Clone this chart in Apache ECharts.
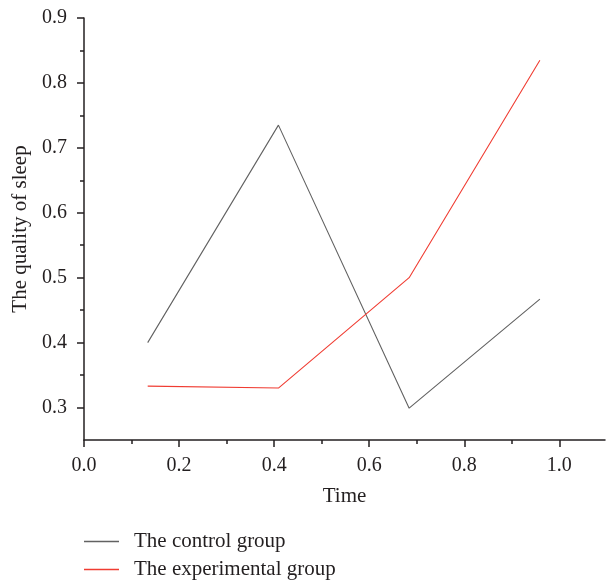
<!DOCTYPE html>
<html>
<head>
<meta charset="utf-8">
<script src="https://cdn.jsdelivr.net/npm/echarts@6/dist/echarts.min.js"></script>
<style>html,body{margin:0;padding:0;background:#fff}#c{width:606px;height:580px}</style>
</head>
<body>
<div id="c"></div>
<script>
const timeValues = [0.134, 0.409, 0.684, 0.959];
const controlGroup = [0.400, 0.735, 0.299, 0.467];
const experimentalGroup = [0.333, 0.330, 0.500, 0.835];
const seriesNames = ['The control group', 'The experimental group'];
const xTickLabels = [0, 0.2, 0.4, 0.6, 0.8, 1.0];
const xMinorTicks = [0.1, 0.3, 0.5, 0.7, 0.9];
const yTickLabels = [0.3, 0.4, 0.5, 0.6, 0.7, 0.8, 0.9];
const yMinorTicks = [0.35, 0.45, 0.55, 0.65, 0.75, 0.85];

const FONT = 'Liberation Serif';
const TXT = '#231f20';
const AX = '#231f20';

const chart = echarts.init(document.getElementById('c'), null, {renderer: 'canvas'});
const xBase = {
  type: 'value', min: 0, max: 1.096, position: 'bottom',
  splitLine: {show: false}
};
const yBase = {
  type: 'value', min: 0.25, max: 0.9, position: 'left',
  splitLine: {show: false}
};
chart.setOption({
  animation: false,
  textStyle: {fontFamily: FONT, color: TXT},
  grid: {left: 84, right: 1, top: 18, bottom: 140, containLabel: false, outerBoundsMode: 'none'},
  legend: {
    orient: 'vertical', left: 84, top: 531, padding: 0, itemWidth: 35, itemHeight: 1.3, itemGap: 7,
    icon: 'rect',
    textStyle: {fontFamily: FONT, fontSize: 21, lineHeight: 20, color: TXT, padding: [0, 0, 0, 10]},
    data: seriesNames
  },
  xAxis: [
    Object.assign({}, xBase, {
      name: 'Time', nameLocation: 'middle', nameGap: 46,
      nameTextStyle: {fontFamily: FONT, fontSize: 21, color: TXT},
      axisLine: {show: true, lineStyle: {color: AX, width: 1.5}},
      axisTick: {show: true, length: 7, lineStyle: {color: AX, width: 1.5}, customValues: xTickLabels},
      axisLabel: {fontFamily: FONT, fontSize: 20, color: TXT, margin: 16, customValues: xTickLabels,
        formatter: v => v.toFixed(1)}
    }),
    Object.assign({}, xBase, {
      axisLine: {show: false},
      axisTick: {show: true, length: 4, lineStyle: {color: AX, width: 1.5}, customValues: xMinorTicks},
      axisLabel: {show: false}
    })
  ],
  yAxis: [
    Object.assign({}, yBase, {
      name: 'The quality of sleep', nameLocation: 'middle', nameGap: 52,
      nameTextStyle: {fontFamily: FONT, fontSize: 21, color: TXT},
      axisLine: {show: true, lineStyle: {color: AX, width: 1.5}},
      axisTick: {show: true, length: 7, lineStyle: {color: AX, width: 1.5}, customValues: yTickLabels},
      axisLabel: {fontFamily: FONT, fontSize: 20, color: TXT, margin: 17, customValues: yTickLabels,
        formatter: v => v.toFixed(1)}
    }),
    Object.assign({}, yBase, {
      axisLine: {show: false},
      axisTick: {show: true, length: 4, lineStyle: {color: AX, width: 1.5}, customValues: yMinorTicks},
      axisLabel: {show: false}
    })
  ],
  series: [
    {
      name: seriesNames[0], type: 'line', symbol: 'none', xAxisIndex: 0, yAxisIndex: 0,
      lineStyle: {color: '#626262', width: 1.1}, itemStyle: {color: '#626262'},
      data: timeValues.map((t, i) => [t, controlGroup[i]])
    },
    {
      name: seriesNames[1], type: 'line', symbol: 'none', xAxisIndex: 0, yAxisIndex: 0,
      lineStyle: {color: '#f03c32', width: 1.1}, itemStyle: {color: '#f03c32'},
      data: timeValues.map((t, i) => [t, experimentalGroup[i]])
    }
  ]
});
</script>
</body>
</html>
